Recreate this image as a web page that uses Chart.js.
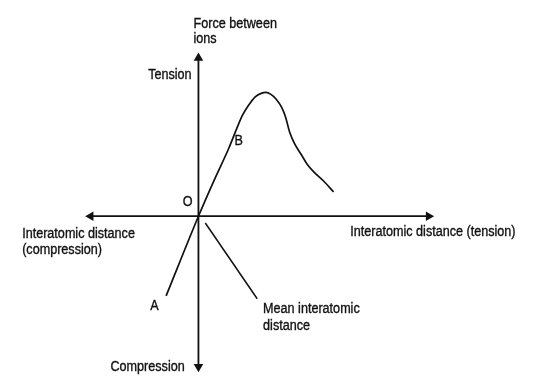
<!DOCTYPE html>
<html>
<head>
<meta charset="utf-8">
<script src="https://cdn.jsdelivr.net/npm/chart.js@4/dist/chart.umd.min.js"></script>
<style>
  html, body { margin: 0; padding: 0; background: #fff; }
  #wrap { width: 534px; height: 380px; }
</style>
</head>
<body>
<div id="wrap"><canvas id="grafico" width="534" height="380"></canvas></div>
<script>
// curva fuerza vs distancia interatomica (unidades arbitrarias, origen en O)
const curvaX = [-3.3, 0, 1.6, 3.1, 3.9, 4.5, 5.1, 5.8, 6.4, 6.9, 7.4, 7.9, 8.5, 8.9, 9.3, 9.8, 10.5, 11.1, 11.8, 12.8, 13.8];
const curvaY = [-8.2, 0, 3.7, 7.0, 9.0, 10.4, 11.4, 12.3, 12.65, 12.75, 12.55, 12.1, 11.2, 10.2, 8.7, 7.5, 6.35, 5.35, 4.55, 3.6, 2.5];

// ejes y linea de "mean interatomic distance"
const ejeHX = [-11.0, 23.5];
const ejeHY = [0, 0];
const ejeVX = [0, 0];
const ejeVY = [16.3, -15.5];
const mediaX = [0.7, 6.0];
const mediaY = [-0.7, -8.5];

// textos
const textos = [
  { t: "Force between", x: -0.5, y: 19.8, al: "left" },
  { t: "ions", x: -0.5, y: 18.2, al: "left" },
  { t: "Tension", x: -0.7, y: 14.5, al: "right" },
  { t: "O", x: -1.1, y: 1.5, al: "center" },
  { t: "B", x: 4.1, y: 7.7, al: "center" },
  { t: "A", x: -4.5, y: -9.3, al: "center" },
  { t: "Mean interatomic", x: 6.6, y: -9.6, al: "left" },
  { t: "distance", x: 6.6, y: -11.3, al: "left" },
  { t: "Interatomic distance", x: -18.0, y: -1.8, al: "left" },
  { t: "(compression)", x: -18.0, y: -3.5, al: "left" },
  { t: "Interatomic distance (tension)", x: 15.5, y: -1.6, al: "left" },
  { t: "Compression", x: -1.4, y: -15.5, al: "right" },
];

const COLOR = "#111";

function puntos(xs, ys) {
  return xs.map(function (x, i) {
    return { x: x, y: ys[i] };
  });
}

const pluginTextos = {
  id: "textos",
  afterDatasetsDraw: function (chart) {
    let ctx = chart.ctx;
    let sx = chart.scales.x;
    let sy = chart.scales.y;
    ctx.save();
    ctx.fillStyle = COLOR;
    ctx.strokeStyle = COLOR;
    ctx.lineWidth = 0.35;
    ctx.font = '14px "Liberation Sans", Arial, sans-serif';
    ctx.textBaseline = "middle";
    textos.forEach(function (l) {
      let px = sx.getPixelForValue(l.x);
      let py = sy.getPixelForValue(l.y);
      ctx.save();
      ctx.translate(px, py);
      ctx.scale(0.9, 1); // letra algo condensada como en el original
      ctx.textAlign = l.al;
      ctx.fillText(l.t, 0, 0);
      ctx.strokeText(l.t, 0, 0);
      ctx.restore();
    });
    ctx.restore();
  },
};

const ejeBase = {
  type: "line",
  borderColor: COLOR,
  backgroundColor: COLOR,
  borderWidth: 1.8,
  pointStyle: "triangle",
  pointRadius: 5.5,
  pointBorderWidth: 0,
  clip: false,
};

new Chart(document.getElementById("grafico"), {
  type: "scatter",
  data: {
    datasets: [
      Object.assign({}, ejeBase, {
        label: "Eje H",
        data: puntos(ejeHX, ejeHY),
        pointRotation: [270, 90],
      }),
      Object.assign({}, ejeBase, {
        label: "Eje V",
        data: puntos(ejeVX, ejeVY),
        pointRotation: [0, 180],
      }),
      {
        type: "line",
        label: "Mean interatomic distance",
        data: puntos(mediaX, mediaY),
        borderColor: COLOR,
        borderWidth: 1.5,
        pointRadius: 0,
        clip: false,
      },
      {
        type: "line",
        label: "Force",
        data: puntos(curvaX, curvaY),
        borderColor: COLOR,
        borderWidth: 1.7,
        pointRadius: 0,
        cubicInterpolationMode: "monotone",
        clip: false,
      },
    ],
  },
  options: {
    responsive: false,
    animation: false,
    events: [],
    layout: { padding: 0 },
    plugins: {
      legend: { display: false },
      tooltip: { enabled: false },
    },
    scales: {
      x: { type: "linear", min: -19.7, max: 33.7, display: false },
      y: { type: "linear", min: -16.3, max: 21.7, display: false },
    },
  },
  plugins: [pluginTextos],
});
</script>
</body>
</html>
